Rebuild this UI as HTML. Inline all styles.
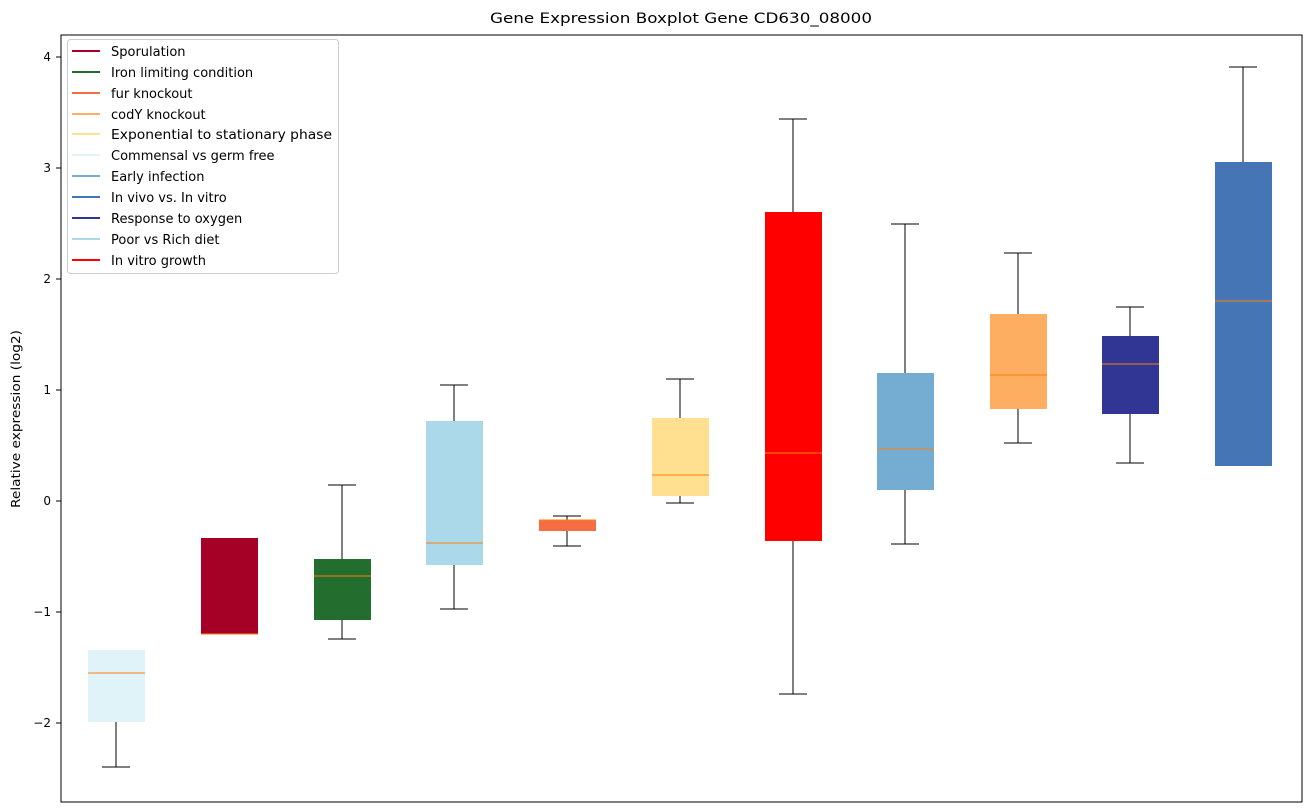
<!DOCTYPE html><html><head><style>body{margin:0;background:#fff}svg{display:block;font-family:"DejaVu Sans","Liberation Sans",sans-serif}</style></head><body>
<svg width="1309" height="812" viewBox="0 0 1309 812" xmlns="http://www.w3.org/2000/svg">
<text x="490" y="23" font-size="14" textLength="382" lengthAdjust="spacingAndGlyphs">Gene Expression Boxplot Gene CD630_08000</text>
<text transform="translate(20,419) rotate(-90)" font-size="12" text-anchor="middle" textLength="178" lengthAdjust="spacingAndGlyphs">Relative expression (log2)</text>
<g font-size="12" text-anchor="end">
<text x="51" y="61">4</text><text x="51" y="172">3</text><text x="51" y="283">2</text><text x="51" y="394">1</text><text x="51" y="505">0</text><text x="51" y="616">−1</text><text x="51" y="727">−2</text></g>
<g stroke="#000"><line x1="56" x2="61" y1="57" y2="57"/><line x1="56" x2="61" y1="168" y2="168"/><line x1="56" x2="61" y1="279" y2="279"/><line x1="56" x2="61" y1="390" y2="390"/><line x1="56" x2="61" y1="501" y2="501"/><line x1="56" x2="61" y1="612" y2="612"/><line x1="56" x2="61" y1="723" y2="723"/></g>
<g stroke="#000">
<line x1="116" x2="116" y1="722" y2="767"/><line x1="102" x2="130" y1="767" y2="767"/>
<line x1="342" x2="342" y1="485" y2="559"/><line x1="342" x2="342" y1="620" y2="639"/><line x1="328" x2="356" y1="485" y2="485"/><line x1="328" x2="356" y1="639" y2="639"/>
<line x1="454" x2="454" y1="385" y2="421"/><line x1="454" x2="454" y1="565" y2="609"/><line x1="440" x2="468" y1="385" y2="385"/><line x1="440" x2="468" y1="609" y2="609"/>
<line x1="567" x2="567" y1="516" y2="520"/><line x1="567" x2="567" y1="531" y2="546"/><line x1="553" x2="581" y1="516" y2="516"/><line x1="553" x2="581" y1="546" y2="546"/>
<line x1="680" x2="680" y1="379" y2="418"/><line x1="680" x2="680" y1="496" y2="503"/><line x1="666" x2="694" y1="379" y2="379"/><line x1="666" x2="694" y1="503" y2="503"/>
<line x1="793" x2="793" y1="119" y2="212"/><line x1="793" x2="793" y1="541" y2="694"/><line x1="779" x2="807" y1="119" y2="119"/><line x1="779" x2="807" y1="694" y2="694"/>
<line x1="905" x2="905" y1="224" y2="373"/><line x1="905" x2="905" y1="490" y2="544"/><line x1="891" x2="919" y1="224" y2="224"/><line x1="891" x2="919" y1="544" y2="544"/>
<line x1="1018" x2="1018" y1="253" y2="314"/><line x1="1018" x2="1018" y1="409" y2="443"/><line x1="1004" x2="1032" y1="253" y2="253"/><line x1="1004" x2="1032" y1="443" y2="443"/>
<line x1="1130" x2="1130" y1="307" y2="336"/><line x1="1130" x2="1130" y1="414" y2="463"/><line x1="1116" x2="1144" y1="307" y2="307"/><line x1="1116" x2="1144" y1="463" y2="463"/>
<line x1="1243" x2="1243" y1="67" y2="162"/><line x1="1229" x2="1257" y1="67" y2="67"/>
</g>
<rect x="88" y="650" width="57" height="72" fill="#e0f3f8"/>
<rect x="201" y="538" width="57" height="96" fill="#a50026"/>
<rect x="314" y="559" width="57" height="61" fill="#236e2f"/>
<rect x="426" y="421" width="57" height="144" fill="#abd9e9"/>
<rect x="539" y="520" width="57" height="11" fill="#f46d43"/>
<rect x="652" y="418" width="57" height="78" fill="#fee090"/>
<rect x="765" y="212" width="57" height="329" fill="#ff0000"/>
<rect x="877" y="373" width="57" height="117" fill="#74add1"/>
<rect x="990" y="314" width="57" height="95" fill="#fdae61"/>
<rect x="1102" y="336" width="57" height="78" fill="#313695"/>
<rect x="1215" y="162" width="57" height="304" fill="#4575b4"/>
<g stroke="#ff7f0e">
<line x1="88" x2="145" y1="673" y2="673"/><line x1="201" x2="258" y1="634" y2="634"/><line x1="314" x2="371" y1="576" y2="576"/><line x1="426" x2="483" y1="543" y2="543"/><line x1="539" x2="596" y1="520" y2="520"/><line x1="652" x2="709" y1="475" y2="475"/><line x1="765" x2="822" y1="453" y2="453"/><line x1="877" x2="934" y1="449" y2="449"/><line x1="990" x2="1047" y1="375" y2="375"/><line x1="1102" x2="1159" y1="364" y2="364"/><line x1="1215" x2="1272" y1="301" y2="301"/>
</g>
<rect x="61" y="35" width="1241" height="767" fill="none" stroke="#000"/>
<rect x="67.5" y="39.5" width="271" height="234" rx="3" fill="#fff" fill-opacity="0.8" stroke="#ccc"/>
<g font-size="13" stroke-width="2">
<line x1="72" x2="100" y1="51" y2="51" stroke="#a50026"/><text x="111" y="56">Sporulation</text>
<line x1="72" x2="100" y1="72" y2="72" stroke="#236e2f"/><text x="111" y="77">Iron limiting condition</text>
<line x1="72" x2="100" y1="93" y2="93" stroke="#f46d43"/><text x="111" y="98">fur knockout</text>
<line x1="72" x2="100" y1="114" y2="114" stroke="#fdae61"/><text x="111" y="119">codY knockout</text>
<line x1="72" x2="100" y1="134" y2="134" stroke="#fee090"/><text x="111" y="139" textLength="221" lengthAdjust="spacingAndGlyphs">Exponential to stationary phase</text>
<line x1="72" x2="100" y1="155" y2="155" stroke="#e0f3f8"/><text x="111" y="160">Commensal vs germ free</text>
<line x1="72" x2="100" y1="176" y2="176" stroke="#74add1"/><text x="111" y="181">Early infection</text>
<line x1="72" x2="100" y1="197" y2="197" stroke="#4575b4"/><text x="111" y="202">In vivo vs. In vitro</text>
<line x1="72" x2="100" y1="218" y2="218" stroke="#313695"/><text x="111" y="223">Response to oxygen</text>
<line x1="72" x2="100" y1="239" y2="239" stroke="#abd9e9"/><text x="111" y="244">Poor vs Rich diet</text>
<line x1="72" x2="100" y1="260" y2="260" stroke="#ff0000"/><text x="111" y="265">In vitro growth</text>
</g>
</svg></body></html>
